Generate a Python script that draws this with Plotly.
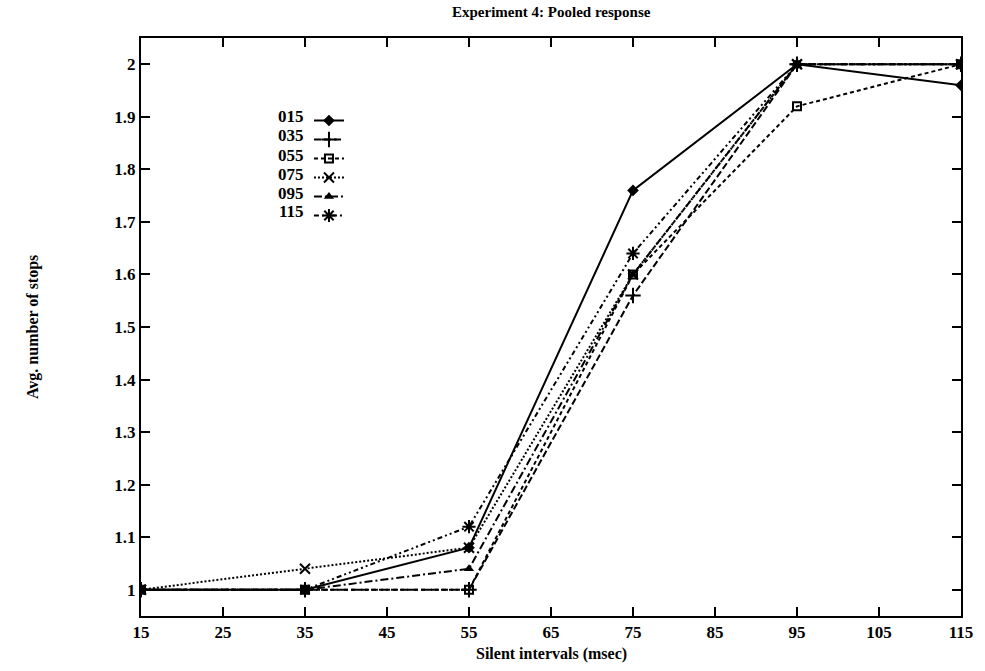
import plotly.graph_objects as go

x_vals = [15, 35, 55, 75, 95, 115]
labels = ["015", "035", "055", "075", "095", "115"]
s015 = [1.0, 1.0, 1.08, 1.76, 2.0, 1.96]
s035 = [1.0, 1.0, 1.0, 1.56, 2.0, 2.0]
s055 = [1.0, 1.0, 1.0, 1.60, 1.92, 2.0]
s075 = [1.0, 1.04, 1.08, 1.60, 2.0, 2.0]
s095 = [1.0, 1.0, 1.04, 1.60, 2.0, 2.0]
s115 = [1.0, 1.0, 1.12, 1.64, 2.0, 2.0]
series = [s015, s035, s055, s075, s095, s115]
x_ticks = [15, 25, 35, 45, 55, 65, 75, 85, 95, 105, 115]
y_ticks = [1, 1.1, 1.2, 1.3, 1.4, 1.5, 1.6, 1.7, 1.8, 1.9, 2]

styles = [
    dict(dash="solid", symbol="diamond", size=9, open=False),
    dict(dash="7px,3px", symbol="cross-thin-open", size=11, open=True),
    dict(dash="4px,3px", symbol="square-open", size=8, open=True),
    dict(dash="2px,2px", symbol="x-thin-open", size=10, open=True),
    dict(dash="8px,3px,2px,3px", symbol="triangle-up", size=9, open=False),
    dict(dash="5px,3px,2px,3px,2px,3px", symbol="asterisk-open", size=11, open=True),
]

L, R, T, B = 141, 19, 38, 55
W, H = 985, 671
PW, PH = W - L - R, H - T - B

fig = go.Figure()
for lab, ys, st in zip(labels, series, styles):
    fig.add_trace(go.Scatter(
        x=x_vals, y=ys, mode="lines+markers", name=" ",
        line=dict(color="black", width=2, dash=st["dash"]),
        marker=dict(symbol=st["symbol"], size=st["size"], color="black",
                    line=dict(color="black", width=2 if st["open"] else 0)),
        legendgroup=lab,
    ))

font_family = "Liberation Serif"
axis_common = dict(
    showline=True, linecolor="black", linewidth=2, mirror="ticks",
    ticks="inside", ticklen=9, tickwidth=2, tickcolor="black",
    showgrid=False, zeroline=False,
    tickfont=dict(family=font_family, size=17, color="black", weight="bold"),
)

leg_top_px = 106
fig.update_layout(
    width=W, height=H,
    margin=dict(l=L, r=R, t=T, b=B),
    paper_bgcolor="white", plot_bgcolor="white",
    xaxis=dict(range=[15, 115], tickvals=x_ticks, ticktext=[str(v) for v in x_ticks], **axis_common),
    yaxis=dict(range=[0.95, 2.05], tickvals=y_ticks, ticktext=[f"{v:g}" for v in y_ticks], **axis_common),
    showlegend=True,
    legend=dict(x=(310 - L) / PW, y=1 - (leg_top_px - T) / PH, xanchor="left", yanchor="top",
                bgcolor="rgba(0,0,0,0)", font=dict(family=font_family, size=11),
                itemwidth=30, tracegroupgap=0),
    annotations=[
        dict(text="<b>Experiment 4: Pooled response</b>", xref="paper", yref="paper",
             x=0.5, y=1, yshift=26, yanchor="middle", showarrow=False,
             font=dict(family=font_family, size=15, color="black")),
        dict(text="<b>Silent intervals (msec)</b>", xref="paper", yref="paper",
             x=0.5, y=0, yshift=-38, yanchor="middle", showarrow=False,
             font=dict(family=font_family, size=16, color="black")),
        dict(text="<b>Avg. number of stops</b>", xref="paper", yref="paper",
             x=0, xshift=-119, y=0.5, textangle=-90, showarrow=False,
             font=dict(family=font_family, size=16, color="black")),
    ],
)

row_h = 19
top_px = 117
for i, lab in enumerate(labels):
    ypx = top_px + i * row_h
    fig.add_annotation(text=f"<b>{lab}</b>", xref="paper", yref="paper",
                       x=(307 - L) / PW, y=1 - (ypx - T) / PH,
                       xanchor="right", yanchor="middle", showarrow=False,
                       font=dict(family=font_family, size=17, color="black"))

fig.write_html("out.html")
